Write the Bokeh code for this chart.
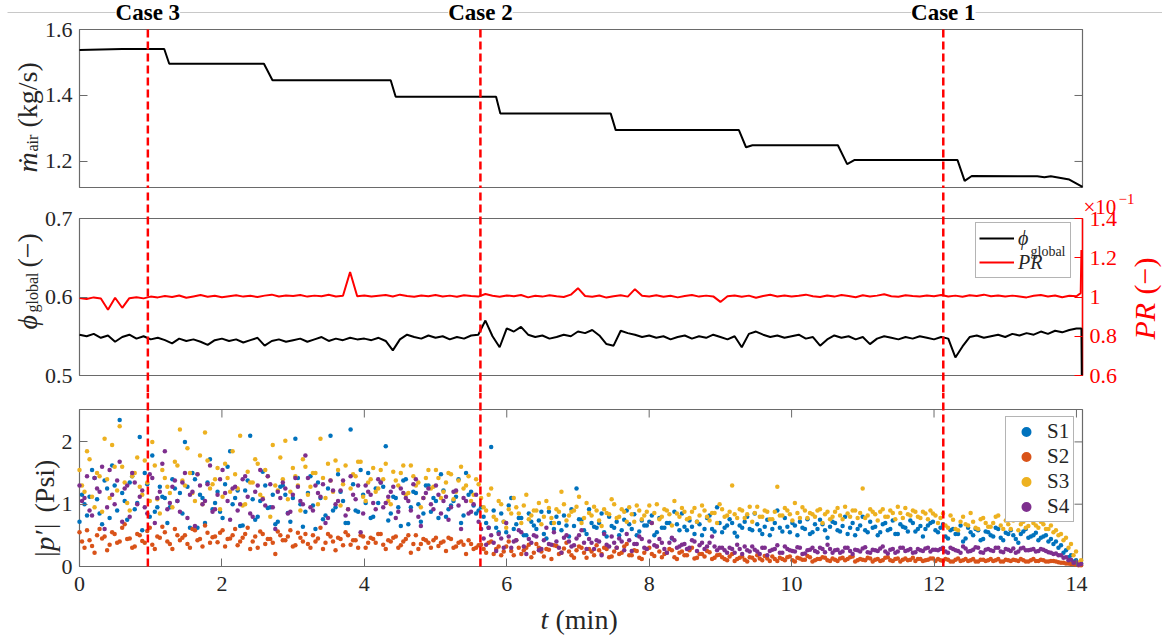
import numpy as np
from math import pi
from bokeh.plotting import figure
from bokeh.layouts import column
from bokeh.models import Range1d, LinearAxis, FixedTicker, Label, Legend, LegendItem
from bokeh.embed import file_html
from bokeh.resources import INLINE

# ---------------- data ----------------
case_t = [0.96, 5.63, 12.13]
case_names = ["Case 3", "Case 2", "Case 1"]

m_t = [0, 0.6, 1.19, 1.26, 2.59, 2.71, 4.37, 4.44, 5.85, 5.91, 7.46, 7.53, 9.26, 9.36, 9.45,
       10.65, 10.78, 10.88, 12.33, 12.43, 12.53, 13.45, 13.55, 13.64, 13.9, 14.085]
m_air = [1.538, 1.541, 1.541, 1.496, 1.496, 1.446, 1.446, 1.396, 1.396, 1.345, 1.345, 1.295, 1.295,
         1.243, 1.249, 1.249, 1.192, 1.204, 1.204, 1.141, 1.156, 1.155, 1.152, 1.155, 1.145, 1.123]

t_line = np.round(np.arange(141) * 0.1, 2)
phi = [0.552, 0.550, 0.553, 0.548, 0.551, 0.543, 0.549, 0.552, 0.547, 0.550,
       0.546, 0.548, 0.545, 0.541, 0.547, 0.544, 0.546, 0.543, 0.539, 0.545,
       0.547, 0.544, 0.546, 0.542, 0.545, 0.548, 0.538, 0.544, 0.546, 0.543,
       0.545, 0.547, 0.543, 0.546, 0.549, 0.544, 0.547, 0.545, 0.548, 0.546,
       0.547, 0.545, 0.548, 0.544, 0.532, 0.546, 0.552, 0.549, 0.547, 0.551,
       0.548, 0.550, 0.546, 0.549, 0.547, 0.551, 0.552, 0.570, 0.550, 0.536,
       0.560, 0.556, 0.562, 0.552, 0.549, 0.551, 0.547, 0.549, 0.552, 0.550,
       0.556, 0.554, 0.558, 0.551, 0.540, 0.538, 0.557, 0.554, 0.552, 0.549,
       0.551, 0.548, 0.550, 0.546, 0.549, 0.551, 0.547, 0.550, 0.548, 0.552,
       0.549, 0.546, 0.550, 0.536, 0.553, 0.556, 0.552, 0.549, 0.551, 0.548,
       0.550, 0.552, 0.547, 0.549, 0.538, 0.546, 0.551, 0.548, 0.550, 0.546,
       0.549, 0.540, 0.547, 0.550, 0.548, 0.546, 0.549, 0.547, 0.550, 0.548,
       0.546, 0.549, 0.547, 0.523, 0.537, 0.549, 0.551, 0.548, 0.550, 0.552,
       0.549, 0.553, 0.551, 0.554, 0.552, 0.556, 0.553, 0.557, 0.555, 0.558,
       0.560]
phi_tail_t = [14.07, 14.075]
phi_tail = [0.560, 0.500]

pr = [0.995, 0.990, 0.998, 0.992, 0.935, 0.996, 0.945, 0.994, 0.999, 0.993,
      1.002, 0.998, 1.005, 1.000, 1.008, 0.996, 1.003, 1.010, 1.001, 1.006,
      0.999, 1.004, 1.009, 1.002, 1.006, 1.000, 1.007, 1.012, 1.003, 1.008,
      1.005, 1.010, 1.002, 1.007, 1.004, 1.011, 1.003, 1.006, 1.127, 1.004,
      1.008, 1.002, 1.006, 1.010, 1.003, 1.012, 1.005, 1.001, 1.008, 1.004,
      1.010, 1.003, 1.007, 1.001, 1.009, 1.005, 1.002, 1.015, 1.006, 1.001,
      1.008, 1.004, 1.010, 0.998, 1.006, 1.002, 1.009, 1.004, 1.000, 1.012,
      1.045, 1.005, 1.001, 1.008, 0.997, 1.004, 1.009, 1.002, 1.040, 1.006,
      1.003, 1.009, 1.001, 1.006, 0.998, 1.005, 1.010, 1.002, 1.007, 1.003,
      0.975, 1.004, 1.008, 1.001, 1.007, 0.996, 1.005, 1.011, 1.003, 1.008,
      1.002, 1.006, 1.012, 1.004, 1.000, 1.008, 1.002, 1.010, 1.005, 0.999,
      1.009, 1.003, 1.007, 1.014, 1.004, 1.001, 1.009, 1.005, 1.002, 1.008,
      1.004, 1.010, 1.003, 1.007, 1.001, 1.009, 1.005, 1.012, 1.004, 1.008,
      1.002, 1.007, 1.003, 0.998, 1.006, 1.010, 1.003, 1.008, 0.999, 1.006,
      1.004]
pr_tail_t = [14.06, 14.07]
pr_tail = [1.02, 1.24]

# two interleaved sample sets per sensor
t_scatter = np.round(np.arange(200) * 0.0705, 4)
t_scatter_b = np.round(np.arange(200) * 0.0705 + 0.03525, 4)
s1 = [0.72, 1.0, 1.12, 1.42, 0.85, 1.38, 0.78, 1.3, 2.35, 1.05,
      1.35, 0.92, 2.08, 1.5, 0.8, 0.88, 1.28, 1.1, 0.95, 1.25,
      1.18, 2.0, 0.62, 1.4, 1.15, 0.7, 1.72, 1.02, 0.88, 1.32,
      1.85, 1.1, 0.65, 1.22, 2.1, 0.75, 1.05, 1.3, 0.95, 0.68,
      1.28, 1.15, 0.72, 2.05, 1.0, 0.88, 1.45, 0.6, 1.1, 0.82,
      2.1, 0.95, 1.2, 0.7, 2.2, 0.9, 1.55, 1.02, 0.78, 1.25,
      1.35, 1.93, 0.85, 1.1, 0.65, 1.4, 0.95, 1.18, 0.72, 1.3,
      0.88, 1.05, 1.48, 0.8, 0.98, 1.12, 0.7, 1.5, 1.2, 0.85,
      0.95, 0.7, 1.92, 0.62, 0.85, 0.55, 1.1, 0.68, 0.78, 0.5,
      0.72, 0.6, 0.88, 0.45, 0.7, 0.8, 0.58, 0.66, 0.92, 1.25,
      0.75, 0.52, 0.7, 0.62, 0.85, 0.48, 0.65, 0.72, 0.58, 0.9,
      0.6, 0.5, 0.74, 0.66, 0.82, 0.55, 0.62, 0.7, 0.45, 0.68,
      0.85, 0.58, 0.64, 0.72, 0.5, 0.78, 0.6, 0.95, 0.55, 0.66,
      0.7, 0.48, 0.62, 0.8, 0.58, 0.68, 0.52, 0.75, 0.6, 0.9,
      0.56, 0.64, 0.7, 0.5, 0.62, 0.76, 0.55, 0.6, 0.68, 0.46,
      0.72, 0.58, 0.65, 0.52, 0.7, 0.6, 0.8, 0.55, 0.62, 0.5,
      0.68, 0.58, 0.74, 0.52, 0.64, 0.56, 0.7, 0.6, 0.48, 0.66,
      0.72, 0.55, 0.68, 0.45, 0.6, 0.52, 0.4, 0.62, 0.5, 0.58,
      0.44, 0.55, 0.48, 0.6, 0.42, 0.52, 0.5, 0.38, 0.56, 0.46,
      0.5, 0.42, 0.48, 0.4, 0.36, 0.3, 0.22, 0.15, 0.08, 0.04]
s1_b = [1.15, 0.82, 1.55, 1.08, 0.68, 1.25, 1.62, 0.9, 1.18, 0.75,
        1.45, 1.02, 0.58, 1.32, 1.78, 0.95, 1.12, 0.7, 1.4, 1.05,
        0.85, 1.28, 1.5, 0.62, 1.1, 1.35, 0.92, 1.2, 0.78, 1.6,
        1.0, 1.22, 0.66, 1.38, 1.08, 0.8, 1.52, 0.94, 1.15, 0.72,
        1.3, 0.86, 1.1, 1.42, 0.64, 1.18, 0.98, 1.35, 0.76, 1.25,
        0.9, 1.48, 1.05, 0.7, 1.32, 0.88, 1.15, 1.5, 0.8, 1.02,
        1.28, 0.74, 1.12, 0.95, 1.38, 0.68, 1.2, 1.0, 0.85, 1.3,
        1.1, 0.78, 1.22, 0.92, 1.05, 1.4, 0.82, 1.15, 0.98, 0.9,
        0.8, 0.62, 0.9, 0.55, 0.72, 0.98, 0.6, 0.78, 0.5, 0.85,
        0.66, 0.74, 0.52, 0.88, 0.6, 0.7, 0.82, 0.48, 0.65, 0.76,
        0.58, 0.92, 0.64, 0.7, 0.55, 0.8, 0.62, 0.5, 0.75, 0.68,
        0.84, 0.56, 0.66, 0.72, 0.5, 0.78, 0.62, 0.7, 0.88, 0.58,
        0.64, 0.74, 0.52, 0.68, 0.6, 0.82, 0.56, 0.7, 0.62, 0.76,
        0.54, 0.66, 0.72, 0.6, 0.85, 0.58, 0.64, 0.5, 0.7, 0.62,
        0.78, 0.55, 0.66, 0.72, 0.6, 0.52, 0.68, 0.75, 0.58, 0.64,
        0.7, 0.56, 0.8, 0.62, 0.5, 0.66, 0.58, 0.72, 0.64, 0.55,
        0.7, 0.6, 0.52, 0.68, 0.62, 0.74, 0.56, 0.65, 0.6, 0.7,
        0.58, 0.62, 0.48, 0.58, 0.52, 0.66, 0.45, 0.55, 0.6, 0.42,
        0.56, 0.5, 0.62, 0.46, 0.54, 0.58, 0.44, 0.52, 0.6, 0.48,
        0.54, 0.46, 0.5, 0.44, 0.4, 0.34, 0.26, 0.18, 0.1, 0.05]
s2 = [0.55, 0.3, 0.42, 0.22, 0.6, 0.48, 0.35, 0.52, 0.4, 0.68,
      0.45, 0.32, 0.5, 0.38, 0.62, 0.28, 0.46, 0.55, 0.36, 0.6,
      0.42, 0.5, 0.3, 0.58, 0.44, 0.66, 0.38, 0.48, 0.54, 0.32,
      0.45, 0.6, 0.4, 0.52, 0.28, 0.48, 0.56, 0.36, 0.44, 0.2,
      0.5, 0.42, 0.58, 0.34, 0.46, 0.52, 0.3, 0.4, 0.62, 0.38,
      0.48, 0.26, 0.44, 0.55, 0.35, 0.42, 0.5, 0.3, 0.46, 0.38,
      0.52, 0.28, 0.4, 0.48, 0.34, 0.44, 0.22, 0.5, 0.36, 0.42,
      0.3, 0.46, 0.38, 0.25, 0.44, 0.32, 0.4, 0.2, 0.36, 0.3,
      0.35, 0.22, 0.4, 0.28, 0.18, 0.32, 0.25, 0.42, 0.2, 0.3,
      0.15, 0.36, 0.24, 0.28, 0.12, 0.33, 0.22, 0.38, 0.18, 0.26,
      0.3, 0.14, 0.24, 0.34, 0.2, 0.28, 0.16, 0.3, 0.22, 0.36,
      0.18, 0.25, 0.12, 0.28, 0.2, 0.32, 0.15, 0.22, 0.26, 0.12,
      0.24, 0.18, 0.3, 0.14, 0.2, 0.25, 0.12, 0.18, 0.15, 0.1,
      0.2, 0.12, 0.16, 0.08, 0.14, 0.18, 0.1, 0.13, 0.16, 0.09,
      0.12, 0.15, 0.1, 0.14, 0.11, 0.17, 0.08, 0.12, 0.15, 0.1,
      0.13, 0.09, 0.14, 0.12, 0.16, 0.1, 0.11, 0.14, 0.08, 0.12,
      0.1, 0.15, 0.09, 0.13, 0.11, 0.1, 0.14, 0.12, 0.09, 0.11,
      0.13, 0.12, 0.09, 0.11, 0.08, 0.13, 0.1, 0.09, 0.12, 0.08,
      0.11, 0.1, 0.09, 0.12, 0.08, 0.1, 0.11, 0.09, 0.1, 0.08,
      0.12, 0.09, 0.1, 0.08, 0.09, 0.07, 0.06, 0.05, 0.04, 0.02]
s2_b = [0.4, 0.58, 0.33, 0.5, 0.45, 0.26, 0.55, 0.38, 0.62, 0.44,
        0.3, 0.52, 0.41, 0.57, 0.35, 0.48, 0.64, 0.4, 0.28, 0.5,
        0.46, 0.36, 0.6, 0.42, 0.32, 0.54, 0.47, 0.39, 0.58, 0.44,
        0.5, 0.34, 0.46, 0.62, 0.4, 0.3, 0.52, 0.44, 0.38, 0.56,
        0.42, 0.48, 0.32, 0.54, 0.4, 0.36, 0.5, 0.45, 0.28, 0.52,
        0.4, 0.46, 0.34, 0.5, 0.42, 0.3, 0.48, 0.38, 0.44, 0.52,
        0.35, 0.42, 0.46, 0.3, 0.4, 0.5, 0.36, 0.28, 0.44, 0.38,
        0.42, 0.33, 0.4, 0.46, 0.3, 0.38, 0.35, 0.42, 0.28, 0.34,
        0.28, 0.38, 0.2, 0.32, 0.24, 0.4, 0.18, 0.3, 0.26, 0.35,
        0.22, 0.3, 0.16, 0.27, 0.34, 0.2, 0.29, 0.24, 0.14, 0.32,
        0.22, 0.28, 0.18, 0.26, 0.3, 0.15, 0.24, 0.2, 0.32, 0.18,
        0.26, 0.14, 0.22, 0.3, 0.17, 0.24, 0.2, 0.28, 0.15, 0.22,
        0.18, 0.26, 0.13, 0.2, 0.16, 0.23, 0.14, 0.19, 0.12, 0.16,
        0.09, 0.14, 0.11, 0.15, 0.1, 0.13, 0.17, 0.09, 0.12, 0.14,
        0.1, 0.16, 0.08, 0.13, 0.11, 0.15, 0.1, 0.12, 0.14, 0.09,
        0.11, 0.13, 0.1, 0.15, 0.08, 0.12, 0.1, 0.13, 0.11, 0.09,
        0.14, 0.1, 0.12, 0.08, 0.13, 0.11, 0.09, 0.12, 0.1, 0.13,
        0.09, 0.1, 0.12, 0.08, 0.11, 0.09, 0.12, 0.1, 0.08, 0.11,
        0.09, 0.12, 0.1, 0.08, 0.11, 0.09, 0.1, 0.12, 0.08, 0.1,
        0.09, 0.11, 0.08, 0.09, 0.08, 0.06, 0.05, 0.04, 0.03, 0.02]
s3 = [1.55, 1.2, 1.72, 0.95, 1.45, 2.05, 1.1, 1.6, 2.25, 1.35,
      0.9, 1.5, 1.28, 1.7, 1.05, 1.62, 0.85, 1.42, 1.18, 1.68,
      2.2, 1.3, 1.5, 1.05, 1.78, 2.15, 1.25, 1.4, 0.92, 1.65,
      1.2, 1.48, 2.1, 1.0, 1.35, 1.72, 1.15, 1.55, 0.8, 1.3,
      1.75, 2.02, 1.2, 1.45, 0.9, 1.6, 1.28, 1.5, 2.05, 1.1,
      1.38, 1.7, 0.98, 1.62, 1.25, 1.45, 1.68, 1.05, 1.4, 1.2,
      1.55, 1.65, 1.0, 1.38, 1.5, 1.15, 1.62, 1.3, 0.95, 1.42,
      1.25, 1.55, 1.1, 1.35, 1.48, 1.2, 1.6, 1.3, 1.05, 1.4,
      1.1, 0.9, 1.25, 0.75, 1.0, 0.62, 0.85, 0.95, 0.7, 1.15,
      0.82, 0.9, 0.68, 1.05, 0.78, 0.92, 1.2, 0.74, 0.88, 0.96,
      0.7, 1.02, 0.82, 0.9, 0.65, 0.86, 1.08, 0.78, 0.92, 0.72,
      0.84, 0.98, 0.76, 0.88, 0.7, 1.0, 0.8, 0.9, 0.66, 0.85,
      0.94, 0.76, 0.88, 0.72, 0.98, 0.8, 0.86, 0.7, 0.92, 0.82,
      1.3, 0.78, 0.9, 0.84, 0.72, 0.96, 0.8, 0.88, 0.76, 1.28,
      0.82, 0.9, 0.74, 0.86, 0.95, 0.78, 0.84, 0.9, 0.7, 0.88,
      0.8, 0.94, 0.76, 0.85, 0.9, 0.78, 1.25, 0.82, 0.88, 0.74,
      0.92, 0.8, 0.86, 0.96, 0.78, 0.84, 0.9, 0.8, 0.88, 0.76,
      0.85, 0.7, 0.85, 0.62, 0.75, 0.58, 0.8, 0.66, 0.72, 0.6,
      0.78, 0.64, 0.7, 0.82, 0.6, 0.68, 0.74, 0.58, 0.72, 0.65,
      0.7, 0.62, 0.68, 0.6, 0.55, 0.5, 0.42, 0.3, 0.18, 0.06]
s3_b = [1.3, 1.85, 1.12, 1.5, 0.88, 1.4, 1.95, 1.22, 1.6, 1.02,
        1.45, 1.75, 1.15, 1.35, 2.0, 1.08, 1.55, 1.28, 0.95, 1.62,
        1.38, 1.9, 1.18, 1.48, 1.0, 1.7, 1.32, 1.58, 1.12, 1.42,
        1.85, 1.25, 0.98, 1.52, 1.35, 1.65, 1.1, 1.45, 1.95, 1.22,
        1.4, 1.08, 1.58, 1.3, 1.72, 1.15, 1.5, 1.0, 1.42, 1.65,
        1.2, 1.55, 1.32, 0.92, 1.48, 1.68, 1.12, 1.35, 1.58, 1.25,
        1.4, 1.05, 1.52, 1.3, 1.62, 1.18, 1.45, 1.35, 1.1, 1.55,
        1.28, 1.42, 1.2, 1.5, 1.08, 1.38, 1.25, 1.45, 1.15, 1.32,
        0.95, 1.15, 0.8, 1.05, 0.72, 0.92, 1.1, 0.85, 0.98, 0.76,
        0.9, 1.02, 0.8, 0.94, 0.7, 0.88, 1.0, 0.82, 0.9, 1.12,
        0.78, 0.86, 0.96, 0.74, 0.92, 0.84, 1.0, 0.8, 0.88, 0.95,
        0.72, 0.9, 0.82, 0.98, 0.86, 0.76, 0.92, 0.84, 1.05, 0.8,
        0.88, 0.78, 0.94, 0.82, 0.9, 0.74, 0.86, 1.0, 0.8, 0.88,
        0.84, 0.92, 0.78, 0.96, 0.86, 0.8, 0.9, 0.76, 0.88, 0.82,
        0.94, 0.84, 1.02, 0.78, 0.9, 0.86, 0.8, 0.92, 0.84, 0.76,
        0.88, 0.82, 0.96, 0.8, 0.9, 0.86, 0.78, 0.92, 0.84, 0.88,
        0.8, 0.9, 0.76, 0.86, 0.94, 0.82, 0.88, 0.78, 0.85, 0.9,
        0.82, 0.78, 0.66, 0.82, 0.6, 0.72, 0.68, 0.86, 0.62, 0.76,
        0.7, 0.64, 0.8, 0.66, 0.74, 0.6, 0.78, 0.68, 0.62, 0.75,
        0.66, 0.72, 0.6, 0.66, 0.58, 0.52, 0.46, 0.36, 0.24, 0.1]
s4 = [1.3, 1.1, 0.9, 1.42, 1.2, 0.6, 1.55, 1.0, 1.68, 1.25,
      0.8, 1.35, 1.12, 0.95, 1.48, 0.7, 1.2, 1.85, 1.02, 1.38,
      0.88, 1.5, 1.15, 0.65, 1.3, 1.05, 1.62, 0.92, 1.4, 1.18,
      0.75, 1.28, 1.0, 1.45, 0.85, 1.2, 1.55, 0.98, 1.32, 0.6,
      1.1, 1.25, 0.88, 1.42, 1.05, 1.78, 0.95, 1.3, 1.12, 0.7,
      1.38, 1.0, 1.22, 0.82, 1.45, 1.08, 0.55, 1.3, 1.15, 0.92,
      1.35, 1.02, 1.2, 0.78, 1.25, 1.1, 0.9, 1.4, 0.65, 1.18,
      1.0, 1.3, 0.85, 1.12, 0.95, 1.22, 0.6, 1.05, 0.88, 1.15,
      0.6, 0.35, 0.5, 0.25, 0.45, 0.7, 0.3, 0.42, 0.55, 0.2,
      0.38, 0.48, 0.28, 0.62, 0.35, 0.4, 0.22, 0.5, 0.32, 0.45,
      0.58, 0.28, 0.38, 0.42, 0.18, 0.35, 0.48, 0.3, 0.4, 0.52,
      0.25, 0.36, 0.44, 0.28, 0.7, 0.32, 0.38, 0.22, 0.46, 0.3,
      0.35, 0.28, 0.42, 0.25, 0.38, 0.32, 0.48, 0.26, 0.3, 0.22,
      0.28, 0.35, 0.2, 0.26, 0.32, 0.24, 0.3, 0.18, 0.27, 0.34,
      0.22, 0.28, 0.25, 0.31, 0.2, 0.26, 0.3, 0.23, 0.28, 0.35,
      0.22, 0.27, 0.24, 0.3, 0.2, 0.26, 0.29, 0.23, 0.27, 0.25,
      0.32, 0.21, 0.28, 0.24, 0.3, 0.26, 0.22, 0.28, 0.25, 0.3,
      0.27, 0.26, 0.3, 0.22, 0.28, 0.25, 0.32, 0.24, 0.27, 0.3,
      0.22, 0.28, 0.25, 0.3, 0.23, 0.27, 0.29, 0.24, 0.3, 0.26,
      0.28, 0.25, 0.27, 0.23, 0.2, 0.18, 0.14, 0.1, 0.06, 0.03]
s4_b = [1.05, 1.45, 0.82, 1.25, 1.6, 0.95, 1.15, 1.38, 0.72, 1.3,
        1.5, 1.0, 1.22, 0.85, 1.42, 1.1, 1.65, 0.92, 1.28, 1.05,
        1.35, 0.78, 1.2, 1.48, 1.0, 1.32, 0.88, 1.15, 1.55, 1.05,
        1.25, 0.9, 1.4, 1.12, 0.8, 1.3, 1.08, 1.45, 0.95, 1.2,
        1.35, 0.85, 1.15, 1.28, 1.0, 1.42, 0.9, 1.18, 1.32, 0.78,
        1.22, 1.05, 1.38, 0.92, 1.15, 1.3, 0.85, 1.2, 1.02, 1.4,
        0.95, 1.12, 1.28, 0.88, 1.18, 1.05, 1.32, 0.8, 1.1, 1.25,
        0.92, 1.15, 1.05, 0.75, 1.2, 0.98, 1.1, 0.85, 1.0, 0.72,
        0.45, 0.62, 0.38, 0.52, 0.3, 0.48, 0.4, 0.58, 0.32, 0.44,
        0.5, 0.26, 0.42, 0.36, 0.55, 0.3, 0.46, 0.4, 0.34, 0.5,
        0.38, 0.44, 0.28, 0.4, 0.52, 0.32, 0.38, 0.45, 0.26, 0.42,
        0.36, 0.48, 0.3, 0.4, 0.34, 0.44, 0.28, 0.38, 0.42, 0.32,
        0.36, 0.3, 0.4, 0.34, 0.28, 0.38, 0.32, 0.3, 0.26, 0.3,
        0.22, 0.28, 0.32, 0.24, 0.27, 0.2, 0.3, 0.25, 0.28, 0.22,
        0.32, 0.26, 0.24, 0.3, 0.21, 0.27, 0.25, 0.3, 0.23, 0.28,
        0.26, 0.22, 0.3, 0.25, 0.27, 0.24, 0.31, 0.22, 0.26, 0.29,
        0.24, 0.27, 0.22, 0.3, 0.25, 0.28, 0.23, 0.26, 0.29, 0.24,
        0.27, 0.28, 0.24, 0.3, 0.26, 0.22, 0.29, 0.25, 0.31, 0.23,
        0.27, 0.26, 0.3, 0.24, 0.28, 0.25, 0.22, 0.29, 0.26, 0.27,
        0.24, 0.28, 0.25, 0.22, 0.21, 0.18, 0.15, 0.11, 0.07, 0.04]
series_names = ["S1", "S2", "S3", "S4"]
series_colors = ["#0072BD", "#D95319", "#EDB120", "#7E2F8E"]

x_ticks = [0, 2, 4, 6, 8, 10, 12, 14]
m_ticks = [1.2, 1.4, 1.6]
phi_ticks = [0.5, 0.6, 0.7]
pr_ticks = [0.6, 0.8, 1, 1.2, 1.4]
p_ticks = [0, 1, 2]

X_END = 14.085
M_LO, M_HI = 1.121, 1.6
PHI_LO, PHI_HI = 0.5, 0.7
PR_LO, PR_HI = 0.6, 1.4
P_LO, P_HI = 0.0, 2.52

# ---------------- layout (pixels) ----------------
W = 1162
FL, FR = 79, 1082                       # x = 0 and x = X_END
P1, P2, P3 = (29, 187), (218, 375), (409, 566)
F1, F2, F3 = (0, 188), (188, 392), (392, 636)
FONT = "Liberation Serif"
TXT = "#262626"
BOX = "#6a6a6a"
RED = "#FF0000"
TL = 8


def px(xpx):
    return (xpx - FL) * X_END / (FR - FL)


def ext(lo, hi, panel, frame):
    k = (hi - lo) / (panel[1] - panel[0])
    return Range1d(lo - (frame[1] - panel[1]) * k, hi + (panel[0] - frame[0]) * k)


def py(lo, hi, panel, ypx):
    return hi - (ypx - panel[0]) * (hi - lo) / (panel[1] - panel[0])


xr = Range1d(px(0), px(W))


def make_fig(frame, lo, hi, panel):
    p = figure(width=W, height=frame[1] - frame[0], x_range=xr,
               y_range=ext(lo, hi, panel, frame), output_backend="svg",
               toolbar_location=None, x_axis_location=None, y_axis_location=None,
               min_border=0, outline_line_color=None,
               background_fill_color="white", border_fill_color="white")
    p.grid.visible = False
    return p


def make_axis(p, side, loc, ticks, color=TXT, tick_color=BOX, rng=None):
    kw = {} if rng is None else {"y_range_name": rng}
    ax = LinearAxis(fixed_location=loc, ticker=FixedTicker(ticks=ticks), **kw)
    ax.axis_line_color = None
    ax.major_tick_in = TL
    ax.major_tick_out = 0
    ax.minor_tick_line_color = None
    ax.major_tick_line_color = tick_color
    ax.major_tick_line_width = 1
    ax.major_label_text_font = FONT
    ax.major_label_text_font_size = "22px"
    ax.major_label_text_color = color
    ax.major_label_standoff = 7
    p.add_layout(ax, side)
    return ax


def right_ticks(p, ticks):
    dx = TL * X_END / (FR - FL)
    n = len(ticks)
    p.segment(x0=[X_END] * n, x1=[X_END - dx] * n, y0=ticks, y1=ticks,
              line_color=BOX, line_width=1)


def box(p, lo, hi):
    p.quad(left=0, right=X_END, bottom=lo, top=hi, fill_color=None,
           line_color=BOX, line_width=1.2)


def txt(p, xpx, ypx, lo, hi, panel, text, size, style="normal", color=TXT,
        angle=0.0, align="left", baseline="alphabetic"):
    p.add_layout(Label(x=px(xpx), y=py(lo, hi, panel, ypx), text=text, angle=angle,
                       text_font=FONT, text_font_size=f"{size}px", text_font_style=style,
                       text_color=color, text_align=align, text_baseline=baseline,
                       level="overlay"))


def vlabel(p, pieces, xpx, lo, hi, panel, color=TXT):
    for text, size, style, ystart, dx in pieces:
        txt(p, xpx + dx, ystart, lo, hi, panel, text, size, style, color, angle=pi / 2)


def case_lines(p, y0, y1):
    p.segment(x0=case_t, x1=case_t, y0=[y0] * len(case_t), y1=[y1] * len(case_t),
              line_color=RED, line_width=2.5, line_dash="8 4")


# ---------------- panel 1 ----------------
p1 = make_fig(F1, M_LO, M_HI, P1)
make_axis(p1, "left", 0, m_ticks)
right_ticks(p1, m_ticks)
box(p1, M_LO, M_HI)
p1.line(m_t, m_air, line_color="black", line_width=2)
case_lines(p1, M_HI, p1.y_range.start)
ytop = py(M_LO, M_HI, P1, 12)
p1.segment(x0=[px(7)], x1=[px(W)], y0=[ytop], y1=[ytop], line_color="#c8c8c8", line_width=1)
for t, name in zip(case_t, case_names):
    p1.add_layout(Label(x=t, y=ytop, text=name, text_align="center", text_baseline="middle",
                        text_font=FONT, text_font_style="bold", text_font_size="23px",
                        text_color="black", background_fill_color="white",
                        background_fill_alpha=1.0, level="overlay"))
vlabel(p1, [("ṁ", 28, "italic", 172, 0), ("air", 16, "normal", 151, 5),
            ("(kg/s)", 28, "normal", 127, 0)], 27, M_LO, M_HI, P1)

# ---------------- panel 2 ----------------
p2 = make_fig(F2, PHI_LO, PHI_HI, P2)
p2.extra_y_ranges = {"pr": ext(PR_LO, PR_HI, P2, F2)}
make_axis(p2, "left", 0, phi_ticks)
r_ax2 = make_axis(p2, "right", X_END, pr_ticks, color=RED, tick_color=RED, rng="pr")
r_ax2.major_label_overrides = {1: "1"}
box(p2, PHI_LO, PHI_HI)
p2.segment(x0=[X_END], x1=[X_END], y0=[PR_LO], y1=[PR_HI], y_range_name="pr",
           line_color=RED, line_width=1.5)
r_phi = p2.line(list(t_line) + phi_tail_t, phi + phi_tail, line_color="black", line_width=2)
r_pr = p2.line(list(t_line) + pr_tail_t, pr + pr_tail, line_color=RED, line_width=2,
               y_range_name="pr")
case_lines(p2, p2.y_range.start, p2.y_range.end)
leg2 = Legend(items=[LegendItem(label="ϕ", renderers=[r_phi]),
                     LegendItem(label="PR", renderers=[r_pr])],
              location=(975, F2[1] - 278), orientation="vertical", margin=0,
              padding=3, spacing=0, glyph_width=35, glyph_height=24, label_height=24,
              label_width=49, label_standoff=4, label_text_font=FONT,
              label_text_font_style="italic", label_text_font_size="20px",
              label_text_color=TXT, border_line_color=BOX, border_line_width=1,
              background_fill_alpha=0.0)
p2.add_layout(leg2)
txt(p2, 1030, 251, PHI_LO, PHI_HI, P2, "global", 14)
txt(p2, 1083, 206, PHI_LO, PHI_HI, P2, "×10", 21, color=RED)
txt(p2, 1118, 198, PHI_LO, PHI_HI, P2, "−1", 15, color=RED)
vlabel(p2, [("ϕ", 28, "italic", 329, 0), ("global", 16, "normal", 312, 5),
            ("(−)", 28, "normal", 267, 0)], 27, PHI_LO, PHI_HI, P2)
vlabel(p2, [("PR", 30, "italic", 339, 0), ("(−)", 30, "normal", 294, 0)],
       1144, PHI_LO, PHI_HI, P2, color=RED)

# ---------------- panel 3 ----------------
p3 = make_fig(F3, P_LO, P_HI, P3)
make_axis(p3, "left", 0, p_ticks)
right_ticks(p3, p_ticks)
x_ax = make_axis(p3, "below", P_LO, x_ticks)
x_ax.major_label_standoff = 10
box(p3, P_LO, P_HI)
dy = TL * (P_HI - P_LO) / (P3[1] - P3[0])
p3.segment(x0=x_ticks, x1=x_ticks, y0=[P_HI] * len(x_ticks), y1=[P_HI - dy] * len(x_ticks),
           line_color=BOX, line_width=1)
items = []
for name, col, va, vb in zip(series_names, series_colors, [s1, s2, s3, s4],
                             [s1_b, s2_b, s3_b, s4_b]):
    r = p3.scatter(list(t_scatter) + list(t_scatter_b), va + vb, size=4.5,
                   fill_color=col, line_color=None)
    items.append(LegendItem(label=name, renderers=[r]))
case_lines(p3, P_LO, p3.y_range.end)
leg3 = Legend(items=items, location=(1005, F3[1] - 522), orientation="vertical",
              margin=0, padding=2, spacing=0, glyph_width=36, glyph_height=25,
              label_height=25, label_width=24, label_standoff=3, label_text_font=FONT,
              label_text_font_size="21px", label_text_color=TXT, border_line_color=BOX,
              border_line_width=1, background_fill_color="white", background_fill_alpha=1.0)
p3.add_layout(leg3)
vlabel(p3, [("|p′|", 28, "italic", 558, 0), ("(Psi)", 28, "normal", 512, 0)],
       44, P_LO, P_HI, P3)
txt(p3, 540, 619, P_LO, P_HI, P3, "t", 28, "italic")
txt(p3, 555, 619, P_LO, P_HI, P3, "(min)", 28)

layout = column(p1, p2, p3, spacing=0)
open("out.html", "w").write(file_html(layout, INLINE))
